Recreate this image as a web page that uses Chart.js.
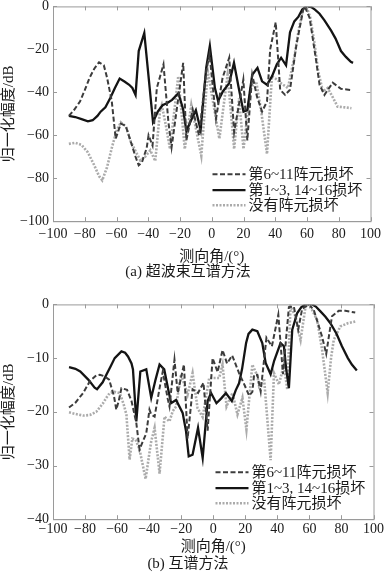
<!DOCTYPE html>
<html>
<head>
<meta charset="utf-8">
<script src="https://cdn.jsdelivr.net/npm/chart.js@4"></script>
<style>
  body { margin: 0; background: #fff; overflow: hidden; }
  .box { position: absolute; left: 0; width: 386px; }
</style>
</head>
<body>
<div class="box" style="top:-6px;height:286px"><canvas id="chartA"></canvas></div>
<div class="box" style="top:292px;height:280px"><canvas id="chartB"></canvas></div>
<script>
"use strict"

const seriesNames = ["第6~11阵元损坏", "第1~3, 14~16损坏", "没有阵元损坏"];
const xTicks = [-100, -80, -60, -40, -20, 0, 20, 40, 60, 80, 100];

// (a) 超波束互谱方法
const angA_dash = [-90, -87, -83, -80, -77, -74, -71, -68, -66, -63, -60.5, -57.3, -54.2, -51, -48, -46, -44, -41, -39.8, -37.3, -34.6, -30.4, -27.3, -25.3, -21.1, -18, -16, -12, -8, -3.5, -1.4, 2.7, 6.8, 11, 14.1, 19.9, 22.4, 25.5, 28.5, 31.7, 34.8, 36.8, 40.3, 43.1, 46.2, 49.3, 53.4, 57.6, 58.6, 61.7, 65.8, 67.9, 71, 76.2, 81.4, 88.5];
const ampA_dash = [-51, -48.5, -44.3, -39, -33.3, -29, -26, -27.4, -33, -44, -61.6, -54.6, -55.6, -63, -70, -74, -72.6, -66, -60, -64.8, -38, -27, -53.8, -65.6, -42.8, -26.3, -62.4, -48, -60, -30.2, -22.3, -52.2, -33.3, -23.9, -58.5, -34.1, -62.4, -31.8, -42, -49, -44.3, -20, -7.4, -38.8, -41.2, -38.8, -17.6, -1.6, 0, -5.5, -25.5, -36.5, -41.2, -35.5, -38.4, -39];

const angA_solid = [-90, -86, -82, -78, -75, -72, -70, -67, -64, -61, -58, -55, -52, -50, -48, -46, -42.5, -37, -34, -31, -28, -25, -21, -18, -16, -13, -10, -7, -3.5, -1.2, 2, 4, 7, 11, 14, 17, 20, 22.4, 25.5, 28.8, 31.7, 34.8, 38, 41, 43.7, 46.8, 49.3, 52, 54.5, 57, 59.6, 62.7, 65, 67.9, 71, 75.2, 78, 81.4, 84.5, 87.6, 89];
const ampA_solid = [-51, -51.5, -52.5, -53.5, -53, -51, -49, -47, -42.8, -38, -33.6, -35, -36.5, -38, -41.2, -20.8, -12.4, -53.8, -49, -46, -45, -43.5, -40.4, -48, -58, -53, -48.3, -57.5, -28.6, -18.4, -38, -44, -39.6, -35.7, -26.3, -38, -49, -48.3, -31.8, -28.6, -34.9, -36.5, -32.5, -27, -23.9, -27.4, -12.1, -7, -4.9, -1.5, 0, -0.3, -1.5, -3.4, -6.5, -11.3, -15, -20.8, -23.5, -25.8, -26.3];

const angA_none = [-90, -86, -82, -78, -74, -71, -69, -66, -63, -60, -57.3, -54, -51, -48.4, -45, -42, -38.7, -35.6, -32.5, -31.5, -29, -26.3, -21.1, -17, -12.9, -6.6, -2.5, 4.8, 10, 14.1, 17.2, 20, 24.4, 28, 31, 34.8, 37.9, 41, 44, 48, 52, 55, 57.5, 59.6, 62, 64.8, 67, 70, 73, 76, 79.3, 84, 88];
const ampA_none = [-64, -63.5, -64.5, -68, -74, -79, -81, -75, -66, -58, -54, -56, -63, -66.8, -71.7, -70, -67, -72, -48, -45.9, -55, -66.4, -32.5, -66.4, -45.9, -69.5, -30.2, -61.6, -31.8, -66.4, -42.8, -66.4, -38, -35, -48, -68.7, -32.5, -34, -36, -38, -23.6, -10, -1.3, 0, -5, -17.5, -30, -39.6, -38, -42, -46.7, -47, -47.4];

// (b) 互谱方法
const angB_dash = [-90, -86, -81.2, -77, -73, -70.8, -67.7, -65, -62, -60.5, -59, -57.3, -53.8, -51, -48, -46, -41.8, -39.8, -38.7, -36.6, -33.5, -31.5, -28.4, -27.3, -24.2, -22.2, -18.3, -16, -12.9, -9.5, -6.1, -3.5, -0.4, 2.7, 5.8, 8.6, 11.8, 16.1, 19.8, 22.4, 24.4, 25.5, 27.5, 29.6, 33.2, 36.6, 40.6, 43.5, 47.2, 50.3, 53, 55.5, 59.6, 62.7, 67.9, 70.5, 74.1, 78.3, 82.4, 88.6];
const ampB_dash = [-19.2, -18.3, -16.5, -14.3, -13.2, -13.1, -13.4, -14, -17, -19.6, -18, -15.6, -15.9, -18, -22.1, -27, -24, -19.6, -20.5, -20.9, -15.6, -12.5, -17.6, -19, -10.3, -16.5, -11.2, -25, -15.8, -16.5, -14.6, -23.5, -10, -12.6, -8.5, -11, -9.5, -12.8, -15.2, -17, -16.3, -13.1, -13.1, -16.2, -6.2, -7.8, -1.9, -13, -0.5, -0.4, -4.7, -0.8, 0, -1, -6, -9.2, -2.2, -1.2, -1.2, -1.5];

const angB_solid = [-90, -86, -83, -78, -74, -72.5, -69, -66.7, -64, -61.5, -57.3, -55, -53.2, -51, -50.1, -48, -45.5, -41.8, -38.7, -36, -33.5, -30.6, -28, -26.3, -23.2, -19.1, -17, -15.3, -12.9, -9.5, -6.6, -3.5, -1.4, 2, 5, 7.9, 11.6, 14, 16.1, 18, 20.5, 22, 24.4, 27.5, 30.6, 32.7, 35.8, 38, 42, 44.1, 45.5, 47.2, 49.3, 52.4, 55, 57.6, 61.7, 64, 66.9, 70, 73.1, 77, 80.3, 84, 86.5, 89.6];
const ampB_solid = [-11.7, -12, -12.5, -14, -15.5, -15.8, -14.5, -13.1, -11.5, -10, -8.75, -9, -9.7, -11, -12.1, -21.8, -12.5, -12.1, -17.4, -14, -11.2, -12.1, -16, -18.4, -17.8, -20.2, -23.6, -28.3, -28, -23, -28.6, -18, -16.5, -18.4, -17.5, -16.5, -18, -16, -14.7, -12, -7.2, -5.5, -4.7, -5, -7.2, -10.9, -13, -10.5, -7.2, -7.8, -12, -15.6, -4.7, -1.6, -0.5, 0, 0, -0.4, -1.3, -2.3, -3.5, -5.5, -7.8, -10, -11.2, -12.3];

const angB_none = [-90, -86, -81, -77, -73, -69, -66.7, -64.6, -61.5, -58.4, -56, -54.2, -52.2, -50.5, -48.4, -46, -42.2, -39.5, -38.7, -36.6, -33.5, -30.4, -27.3, -25.3, -23.2, -20.1, -16, -12.9, -9.8, -6.6, -2.5, 1.2, 3.7, 5.8, 8.3, 12, 15.1, 18.2, 20.7, 24.4, 27.5, 28.6, 31.7, 35.8, 37.9, 41, 44.1, 46.2, 48.2, 51, 54.5, 57.6, 60, 64.8, 67.9, 71.4, 73.5, 75.2, 79.3, 84, 88.6];
const ampB_none = [-20.1, -20.4, -20.7, -20.6, -20, -18.5, -17.4, -16.5, -16.3, -16.5, -18.5, -20.5, -28.9, -25, -25.2, -27, -32.5, -27, -25.5, -23, -31.5, -20.9, -21.8, -19.9, -19, -13, -16.8, -12.8, -19.3, -21, -13.7, -13.7, -13.7, -11.2, -19, -16.5, -20.5, -17.4, -23.3, -11.2, -13.3, -15.2, -13.8, -29, -12.8, -14.9, -11.2, -15.9, -0.4, -2, -6.6, -0.4, 0, -2.9, -8.4, -16.5, -10, -6.6, -4.1, -3.5, -3.2];

const FONT = '"Liberation Serif", "Noto Sans CJK SC", serif';
const AXIS_GRAY = '#9a9a9a';
const PLOT_LEFT = 53;

const styles = [
    { color: '#3c3c3c', width: 2, dash: [5, 2.5] },
    { color: '#141414', width: 2.3, dash: [] },
    { color: '#ababab', width: 2.6, dash: [2, 1.5] }
];

function pairs(xs, ys) {
    return xs.map((x, i) => ({ x: x, y: ys[i] }));
}

function minusSign(v) {
    return String(v).replace('-', '\u2212');
}

// box + inward tick marks + legend in lower right
const framePlugin = {
    id: 'frame',
    afterDraw(chart) {
        const ctx = chart.ctx;
        const a = chart.chartArea;
        const xs = chart.scales.x, ys = chart.scales.y;
        ctx.save();
        ctx.strokeStyle = AXIS_GRAY;
        ctx.lineWidth = 1;
        ctx.strokeRect(a.left + 0.5, a.top + 0.5, a.right - a.left, a.bottom - a.top);
        ctx.beginPath();
        xs.ticks.forEach(t => {
            const px = Math.round(xs.getPixelForValue(t.value)) + 0.5;
            ctx.moveTo(px, a.bottom); ctx.lineTo(px, a.bottom - 4);
            ctx.moveTo(px, a.top); ctx.lineTo(px, a.top + 4);
        });
        ys.ticks.forEach(t => {
            const py = Math.round(ys.getPixelForValue(t.value)) + 0.5;
            ctx.moveTo(a.left, py); ctx.lineTo(a.left + 4, py);
            ctx.moveTo(a.right, py); ctx.lineTo(a.right - 4, py);
        });
        ctx.stroke();

        ctx.font = '15px ' + FONT;
        ctx.textBaseline = 'middle';
        ctx.fillStyle = '#1a1a1a';
        const offs = [47, 31, 16];
        chart.data.datasets.forEach((ds, i) => {
            const y = a.bottom - offs[i];
            const x0 = a.right - 158;
            ctx.strokeStyle = ds.borderColor;
            ctx.lineWidth = ds.borderWidth;
            ctx.setLineDash(ds.borderDash);
            ctx.beginPath();
            ctx.moveTo(x0, y); ctx.lineTo(x0 + 33, y);
            ctx.stroke();
            ctx.setLineDash([]);
            ctx.fillText(ds.label, x0 + 36, y + 1);
        });
        ctx.restore();
    }
};

function makeChart(id, caption, yMin, yStep, sets, pads) {
    const ctx = document.getElementById(id).getContext('2d');
    return new Chart(ctx, {
        type: 'line',
        data: {
            datasets: sets.map((s, i) => ({
                label: seriesNames[i],
                data: pairs(s[0], s[1]),
                borderColor: styles[i].color,
                borderWidth: styles[i].width,
                borderDash: styles[i].dash,
                pointRadius: 0,
                tension: 0,
                fill: false
            }))
        },
        options: {
            responsive: true,
            maintainAspectRatio: false,
            animation: false,
            layout: { padding: { left: 0, right: 10, top: 0, bottom: 0 } },
            plugins: {
                legend: { display: false },
                tooltip: { enabled: false },
                title: {
                    display: true,
                    position: 'bottom',
                    text: caption,
                    color: '#1a1a1a',
                    font: { family: FONT, size: 15, weight: 'normal', lineHeight: 1.0 },
                    padding: { top: pads.cap, bottom: 0 }
                }
            },
            scales: {
                x: {
                    type: 'linear',
                    min: -100, max: 100,
                    afterBuildTicks: s => { s.ticks = xTicks.map(v => ({ value: v })); },
                    ticks: {
                        autoSkip: false,
                        color: '#1a1a1a',
                        font: { family: FONT, size: 14 },
                        padding: pads.tick,
                        maxRotation: 0,
                        callback: minusSign
                    },
                    grid: { display: true, drawOnChartArea: false, drawTicks: false },
                    border: { color: AXIS_GRAY },
                    title: {
                        display: true,
                        text: '测向角/(°)',
                        color: '#1a1a1a',
                        font: { family: FONT, size: 15, lineHeight: pads.titleLH },
                        padding: { top: pads.title, bottom: 0 }
                    }
                },
                y: {
                    min: yMin, max: 0,
                    afterFit: s => { s.width = PLOT_LEFT; },
                    ticks: {
                        stepSize: yStep,
                        color: '#1a1a1a',
                        font: { family: FONT, size: 14 },
                        padding: 4,
                        callback: minusSign
                    },
                    grid: { display: true, drawOnChartArea: false, drawTicks: false },
                    border: { color: AXIS_GRAY },
                    title: {
                        display: true,
                        text: '归一化幅度/dB',
                        color: '#1a1a1a',
                        font: { family: FONT, size: 15 },
                        padding: { top: 0, bottom: 2 }
                    }
                }
            }
        },
        plugins: [framePlugin]
    });
}

makeChart('chartA', '(a) 超波束互谱方法', -100, 20, [
    [angA_dash, ampA_dash], [angA_solid, ampA_solid], [angA_none, ampA_none]
], { tick: 5, title: 2, titleLH: 1.0, cap: 0 });
makeChart('chartB', '(b) 互谱方法', -40, 10, [
    [angB_dash, ampB_dash], [angB_solid, ampB_solid], [angB_none, ampB_none]
], { tick: 2, title: 0, titleLH: 1.0, cap: 2 });
</script>
</body>
</html>
